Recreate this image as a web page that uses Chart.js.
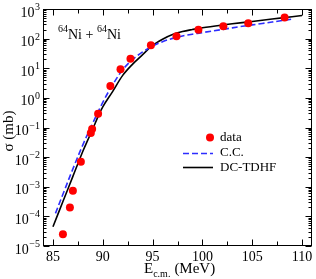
<!DOCTYPE html>
<html>
<head>
<meta charset="utf-8">
<script src="https://cdn.jsdelivr.net/npm/chart.js@4/dist/chart.umd.min.js"></script>
<style>
  body { margin: 0; background: #fff; }
  canvas { display: block; }
</style>
</head>
<body>
<canvas id="fusionChart" width="316" height="279"></canvas>
<script>
// measured fusion cross section (MeV, mb)
const dataE = [86.0, 86.7, 87.0, 87.8, 88.8, 88.93, 89.53, 90.76, 91.78, 92.78, 94.83, 97.4, 99.6, 102.1, 104.6, 108.25];
const dataSigma = [2.5e-5, 2.0e-4, 7.3e-4, 7.0e-3, 0.065, 0.089, 0.29, 2.5, 9.3, 21, 60, 120, 200, 260, 330, 520];

// coupled channels calculation
const ccE = [85.25, 86, 87, 88, 89, 90, 91, 92, 93, 94, 95, 96, 97, 98, 99, 100, 102, 104, 106, 108, 109.2];
const ccSigma = [1.26e-4, 5.6e-4, 4.0e-3, 0.026, 0.141, 0.71, 2.8, 8.9, 20, 35.5, 56, 79, 102, 123, 141, 160, 204, 260, 324, 407, 468];

// DC-TDHF potential
const tdhfE = [85, 86, 87, 88, 88.5, 89, 89.5, 90, 91, 92, 93, 94, 95, 96, 97, 98, 99, 100, 102, 104, 106, 108, 110];
const tdhfSigma = [4.47e-5, 3.16e-4, 2.24e-3, 0.0158, 0.038, 0.089, 0.224, 0.5, 1.66, 5.75, 13.8, 28.8, 58.9, 95.5, 138, 174, 204, 234, 288, 347, 417, 501, 603];

const xTicks = [85, 90, 95, 100, 105, 110];
const yTickExps = [-5, -4, -3, -2, -1, 0, 1, 2, 3];

const serif = '"Liberation Serif", "DejaVu Serif", serif';

function toPoints(xs, ys) {
    return xs.map((x, i) => ({ x: x, y: ys[i] }));
}

// Frame, inward ticks, labels, legend and annotation
const decorPlugin = {
    id: 'decor',
    afterDraw(chart) {
        const ctx = chart.ctx;
        const area = chart.chartArea;
        const xs = chart.scales.x;
        const ys = chart.scales.y;
        const L = Math.round(area.left) + 0.5;
        const R = Math.round(area.right) - 0.5;
        const T = Math.round(area.top) + 0.5;
        const B = Math.round(area.bottom) - 0.5;

        ctx.save();
        ctx.strokeStyle = '#000';
        ctx.lineWidth = 1;
        ctx.strokeRect(L, T, R - L, B - T);

        // x ticks (bottom and top)
        ctx.beginPath();
        for (let v = 85; v <= 110.01; v += 2.5) {
            const px = Math.round(xs.getPixelForValue(v)) + 0.5;
            const len = (v % 5 === 0) ? 6 : 4;
            ctx.moveTo(px, B); ctx.lineTo(px, B - len);
            ctx.moveTo(px, T); ctx.lineTo(px, T + len);
        }
        // y ticks (left and right)
        for (let e = -5; e <= 3; e++) {
            for (let m = 1; m <= 9; m++) {
                const val = m * Math.pow(10, e);
                if (val > 1000.0001) break;
                const py = Math.round(ys.getPixelForValue(val)) + 0.5;
                const len = (m === 1) ? 6 : 3;
                ctx.moveTo(L, py); ctx.lineTo(L + len, py);
                ctx.moveTo(R, py); ctx.lineTo(R - len, py);
            }
        }
        ctx.stroke();

        ctx.fillStyle = '#000';
        // x tick labels
        ctx.font = '14px ' + serif;
        ctx.textAlign = 'center';
        ctx.textBaseline = 'alphabetic';
        xTicks.forEach(v => {
            ctx.fillText(String(v), xs.getPixelForValue(v), 260.5);
        });

        // y tick labels 10^n
        yTickExps.forEach(e => {
            const py = ys.getPixelForValue(Math.pow(10, e));
            const exp = e < 0 ? '\u2212' + (-e) : String(e);
            ctx.font = '10px ' + serif;
            const wExp = ctx.measureText(exp).width;
            ctx.font = '14px ' + serif;
            const wBase = ctx.measureText('10').width;
            const right = 40;
            ctx.textAlign = 'left';
            ctx.fillText('10', right - wExp - wBase - 0.5, py + 7.5);
            ctx.font = '10px ' + serif;
            ctx.fillText(exp, right - wExp, py + 1);
        });

        // x axis title
        ctx.textAlign = 'left';
        ctx.font = '15px ' + serif;
        ctx.fillText('E', 144, 273);
        let x = 144 + ctx.measureText('E').width;
        ctx.font = '10px ' + serif;
        ctx.fillText('c.m.', x, 277);
        x += ctx.measureText('c.m.').width + 4;
        ctx.font = '15px ' + serif;
        ctx.fillText('(MeV)', x, 273);

        // y axis title
        ctx.save();
        ctx.translate(13, 131);
        ctx.rotate(-Math.PI / 2);
        ctx.textAlign = 'center';
        ctx.font = '15px ' + serif;
        ctx.fillText('\u03c3 (mb)', 0, 0);
        ctx.restore();

        // reaction label
        ctx.textAlign = 'left';
        let ax = 58;
        const parts = [['64', true], ['Ni + ', false], ['64', true], ['Ni', false]];
        parts.forEach(p => {
            if (p[1]) {
                ctx.font = '10px ' + serif;
                ctx.fillText(p[0], ax, 31.5);
            } else {
                ctx.font = '14px ' + serif;
                ctx.fillText(p[0], ax, 38.5);
            }
            ax += ctx.measureText(p[0]).width;
        });

        // legend
        const ds = chart.data.datasets;
        ctx.font = '13px ' + serif;
        ctx.textBaseline = 'middle';
        ctx.fillStyle = ds[0].backgroundColor;
        ctx.beginPath();
        ctx.arc(210, 137.5, 4, 0, Math.PI * 2);
        ctx.fill();
        ctx.fillStyle = '#000';
        ctx.fillText(ds[0].label, 220, 138);

        ctx.strokeStyle = ds[1].borderColor;
        ctx.lineWidth = ds[1].borderWidth;
        ctx.setLineDash(ds[1].borderDash);
        ctx.beginPath();
        ctx.moveTo(183, 153.5); ctx.lineTo(213, 153.5);
        ctx.stroke();
        ctx.fillText(ds[1].label, 220, 153);

        ctx.strokeStyle = ds[2].borderColor;
        ctx.lineWidth = ds[2].borderWidth;
        ctx.setLineDash([]);
        ctx.beginPath();
        ctx.moveTo(183, 167.5); ctx.lineTo(213, 167.5);
        ctx.stroke();
        ctx.fillText(ds[2].label, 220, 168);

        ctx.restore();
    }
};

const ctx = document.getElementById('fusionChart').getContext('2d');
new Chart(ctx, {
    type: 'line',
    data: {
        datasets: [{
            label: 'data',
            data: toPoints(dataE, dataSigma),
            showLine: false,
            pointRadius: 4,
            pointBorderWidth: 0,
            backgroundColor: '#ff0000',
            borderColor: '#ff0000'
        }, {
            label: 'C.C.',
            data: toPoints(ccE, ccSigma),
            borderColor: '#2d2dff',
            borderWidth: 1.6,
            borderDash: [6, 3],
            pointRadius: 0,
            fill: false,
            tension: 0.35
        }, {
            label: 'DC-TDHF',
            data: toPoints(tdhfE, tdhfSigma),
            borderColor: '#000000',
            borderWidth: 1.6,
            pointRadius: 0,
            fill: false,
            tension: 0.35
        }]
    },
    options: {
        responsive: false,
        maintainAspectRatio: false,
        animation: false,
        layout: { padding: { left: 43, right: 1, top: 9, bottom: 33 } },
        plugins: {
            legend: { display: false },
            tooltip: { enabled: false }
        },
        scales: {
            x: { type: 'linear', min: 84, max: 111, display: false },
            y: { type: 'logarithmic', min: 1e-5, max: 1e3, display: false }
        }
    },
    plugins: [decorPlugin]
});
</script>
</body>
</html>
